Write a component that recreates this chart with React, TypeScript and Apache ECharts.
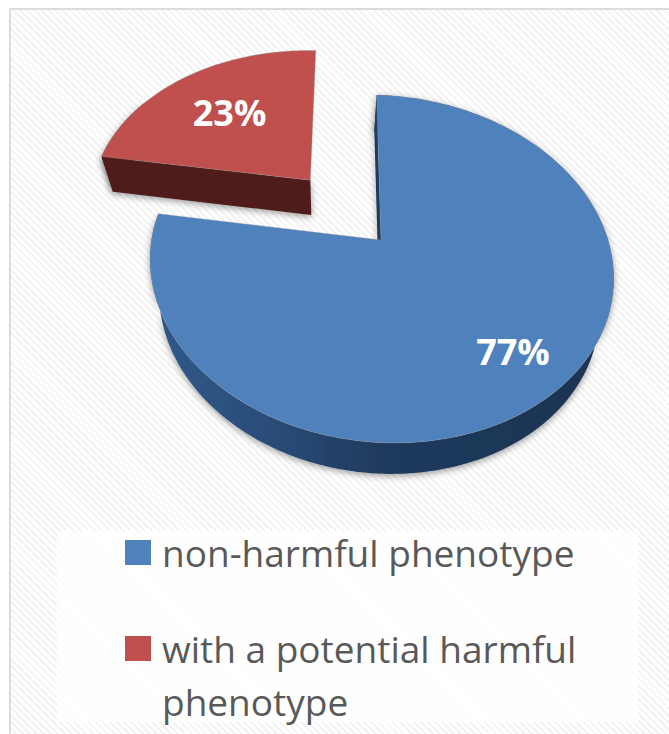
import React, { useEffect, useRef } from "react";
import * as echarts from "echarts";

const categories = ["non-harmful phenotype", "with a potential harmful\nphenotype"];
const shares = [77, 23];
const percentLabels = ["77%", "23%"];
const topColors = ["#4f81bd", "#c0504d"];

// Projection of the tilted pie: disc coordinates to page pixels.
const APEX_X = 381, APEX_Y = 240, SCALE_X = 228.5, SCALE_Y = 169, PERSPECTIVE = 1 / 6;
const SHEAR_X = 0.03, SHEAR_Y = 0.025;
const VANISH_X = 330, CONVERGE = 0.05, DEPTH = 31, DEPTH_GROW = 0.0147, FRONT_Y = 443;
const EXPLODE = [[0, 0], [-0.32, 0.365]];
const LABEL_RADIUS = [0.77, 0.63];
const SIDE_SHARE = [1, 0.3];

const project = (u: number, v: number): number[] => {
  const d = 1 + PERSPECTIVE * v;
  const x = (SCALE_X * u) / d;
  const y = (-SCALE_Y * v) / d;
  return [APEX_X + x + SHEAR_X * y, APEX_Y + y + SHEAR_Y * x];
};
const drop = (p: number[]): number[] => [
  p[0] + CONVERGE * (VANISH_X - p[0]),
  p[1] + DEPTH + (FRONT_Y - p[1]) * DEPTH_GROW,
];

const total = shares.reduce((a, b) => a + b, 0);

function renderSlice(index: number) {
  return (_params: any, api: any) => {
    const value = api.value(0);
    const before = shares.slice(0, index).reduce((a, b) => a + b, 0);
    const a0 = (before / total) * Math.PI * 2;
    const a1 = a0 + (value / total) * Math.PI * 2;
    const mid = (a0 + a1) / 2;
    const ox = EXPLODE[index][0];
    const oy = EXPLODE[index][1];
    const rim: number[][] = [];
    const steps = Math.max(12, Math.round((a1 - a0) * 40));
    for (let i = 0; i <= steps; i++) {
      const a = a0 + ((a1 - a0) * i) / steps;
      rim.push(project(ox + Math.sin(a), oy + Math.cos(a)));
    }
    const apex = project(ox, oy);
    const rimBottom = rim.map(drop);
    const apexBottom = drop(apex);
    const sideCount = Math.round(steps * SIDE_SHARE[index]) + 1;
    const side = [...rim.slice(0, sideCount), ...rimBottom.slice(0, sideCount).reverse()];
    const lx = project(
      ox + Math.sin(mid) * LABEL_RADIUS[index],
      oy + Math.cos(mid) * LABEL_RADIUS[index]
    );
    const shadow = { shadowColor: "rgba(0,0,0,0.4)", shadowBlur: 7, shadowOffsetY: 2 };
    const sideFill =
      index === 0
        ? {
            type: "linear",
            x: 0, y: 0, x2: 1, y2: 0,
            colorStops: [
              { offset: 0, color: "#30598a" },
              { offset: 0.25, color: "#2a4d7a" },
              { offset: 0.5, color: "#1f3a5d" },
              { offset: 1, color: "#1d3452" },
            ],
          }
        : "#4f1c1b";
    const wallFill = index === 0 ? "#1d3a5e" : "#4f1c1b";
    return {
      type: "group",
      children: [
        { type: "polygon", shape: { points: side }, style: { fill: sideFill, ...shadow } },
        {
          type: "polygon",
          shape: { points: [apex, rim[0], rimBottom[0], apexBottom] },
          style: { fill: wallFill, ...shadow },
        },
        {
          type: "polygon",
          shape: { points: [apex, ...rim] },
          style: { fill: topColors[index], stroke: "rgba(150,150,150,0.45)", lineWidth: 0.8 },
        },
        {
          type: "text",
          x: lx[0],
          y: lx[1],
          style: {
            text: percentLabels[index],
            fill: "#ffffff",
            fontFamily: "'Open Sans'",
            fontWeight: "bold",
            fontSize: 36,
            align: "center",
            verticalAlign: "middle",
          },
        },
      ],
    };
  };
}

export default function App() {
  const ref = useRef<HTMLDivElement>(null);
  useEffect(() => {
    const chart = echarts.init(ref.current!, undefined, { renderer: "svg" });
    const legendBase = {
      left: 125,
      orient: "vertical" as const,
      itemWidth: 26,
      itemHeight: 25,
      icon: "rect",
      padding: 0,
      textStyle: {
        fontFamily: "'Open Sans'",
        fontSize: 37,
        color: "#595959",
        lineHeight: 53,
        padding: [0, 0, 0, 6],
      },
    };
    chart.setOption({
      animation: false,
      graphic: [
        {
          type: "rect",
          z: -1,
          shape: { x: 57, y: 531, width: 581, height: 191 },
          style: { fill: "rgba(255,255,255,0.82)" },
        },
      ],
      legend: [
        { ...legendBase, top: 526, data: [categories[0]] },
        {
          ...legendBase,
          top: 569,
          data: [categories[1]],
          formatter: (n: string) => "\n" + n,
        },
      ],
      series: categories.map((name, i) => ({
        type: "custom",
        name,
        coordinateSystem: "none",
        itemStyle: { color: topColors[i] },
        data: [[shares[i]]],
        renderItem: renderSlice(i),
      })),
    });
    return () => chart.dispose();
  }, []);
  return (
    <div
      style={{
        position: "absolute",
        left: 0,
        top: 0,
        width: 669,
        height: 734,
        background: "#fff",
        overflow: "hidden",
      }}
    >
      <div
        style={{
          position: "absolute",
          left: 9,
          top: 8,
          right: -3,
          bottom: -3,
          boxSizing: "border-box",
          border: "2px solid #dcdcdc",
          background:
            "repeating-linear-gradient(45deg, #ffffff 0 3px, #f3f3f3 3px 5px)",
        }}
      />
      <div ref={ref} style={{ position: "absolute", left: 0, top: 0, width: 669, height: 734 }} />
    </div>
  );
}
